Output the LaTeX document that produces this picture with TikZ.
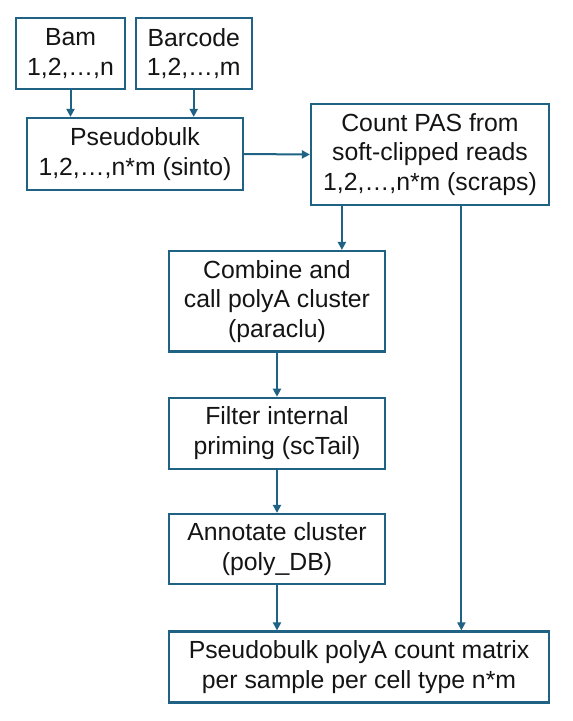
\documentclass[tikz,border=0pt]{standalone}
\usepackage{fontspec}
\setmainfont{Liberation Sans}
\usetikzlibrary{arrows.meta,calc}
\definecolor{edge}{RGB}{31,98,132}
\definecolor{txt}{RGB}{20,20,20}
\begin{document}
\begin{tikzpicture}[x=1pt,y=-1pt,
  box/.style={draw=edge, line width=2.2pt, align=center, inner sep=0pt,
    text=txt, font=\fontsize{24.8}{29.5}\selectfont},
  arr/.style={draw=edge, line width=2pt, -{Triangle[length=8pt,width=8pt]}},
  ln/.style={draw=edge, line width=2pt}]
\useasboundingbox (0,0) rectangle (573,721);
\node[box, minimum width=109, minimum height=71] (bam) at (70.5,53.5) {Bam\\1,2,…,n};
\node[box, minimum width=116, minimum height=71] (bar) at (193.7,53.5) {Barcode\\1,2,…,m};
\node[box, minimum width=216, minimum height=72] (pb) at (135,154) {Pseudobulk\\1,2,…,n*m (sinto)};
\node[box, minimum width=238, minimum height=101] (cnt) at (430,154.5) {Count PAS from\\soft-clipped reads\\1,2,…,n*m (scraps)};
\node[box, minimum width=216, minimum height=100.5] (comb) at (277,301.3) {Combine and\\call polyA cluster\\(paraclu)};
\node[box, minimum width=216, minimum height=71] (filt) at (277,433.3) {Filter internal\\priming (scTail)};
\node[box, minimum width=216, minimum height=70] (ann) at (277,549) {Annotate cluster\\(poly\_DB)};
\node[box, minimum width=380, minimum height=71] (fin) at (359,667) {Pseudobulk polyA count matrix\\per sample per cell type n*m};
\coordinate (c1) at ($(cnt.south west)+(32,0)$);
\coordinate (c2) at ($(cnt.south west)+(151.5,0)$);
\draw[arr] (bam.south) -- (bam.south |- pb.north);
\draw[arr] (bar.south) -- (bar.south |- pb.north);
\draw[arr] (pb.east) -- (cnt.west);
\draw[arr] (c1) -- (c1 |- comb.north);
\draw[arr] (c2) -- (c2 |- fin.north);
\draw[arr] (comb.south) -- (filt.north);
\draw[arr] (filt.south) -- (ann.north);
\draw[arr] (ann.south) -- (ann.south |- fin.north);
\end{tikzpicture}
\end{document}
